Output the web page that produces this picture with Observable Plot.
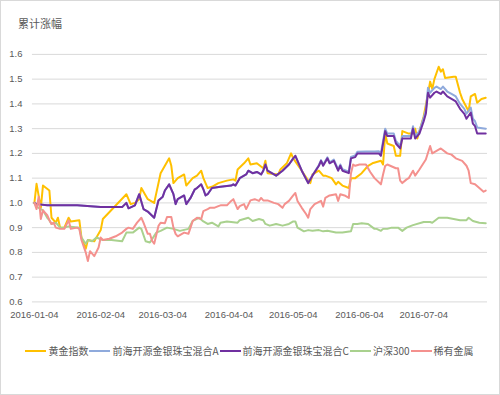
<!DOCTYPE html>
<html>
<head>
<meta charset="utf-8">
<script src="https://cdn.jsdelivr.net/npm/d3@7"></script>
<script src="https://cdn.jsdelivr.net/npm/@observablehq/plot@0.6"></script>
<style>
  html, body { margin: 0; padding: 0; background: #fff; }
  #wrap { position: relative; width: 500px; height: 395px; box-sizing: border-box; border: 1px solid #d9d9d9; overflow: hidden; }
  #title { position: absolute; left: 17px; top: 14px; font: 11px "Noto Sans CJK SC", sans-serif; color: #595959; }
  #chart { position: absolute; left: -1px; top: -1px; }
  #legend { position: absolute; left: 0; top: 342px; width: 498px; display: flex; justify-content: center; align-items: center; font: 10px "Noto Sans CJK SC", sans-serif; color: #595959; }
  .item { display: flex; align-items: center; margin-right: 1px; }
  .sw { width: 21px; height: 2px; margin-right: 2px; }
</style>
</head>
<body>
<div id="wrap">
  <div id="title">累计涨幅</div>
  <div id="chart"></div>
  <div id="legend"></div>
</div>
<script>
const seriesNames = ["黄金指数", "前海开源金银珠宝混合A", "前海开源金银珠宝混合C", "沪深300", "稀有金属"];
const seriesColors = ["#FFC000", "#8FAADC", "#7030A0", "#A9D18E", "#F4918E"];

const yTicks = [0.6, 0.7, 0.8, 0.9, 1.0, 1.1, 1.2, 1.3, 1.4, 1.5, 1.6];
const xTicks = ["2016-01-04", "2016-02-04", "2016-03-04", "2016-04-04", "2016-05-04", "2016-06-04", "2016-07-04"];

const goldDates = ["2016-01-04","2016-01-05","2016-01-07","2016-01-08","2016-01-11","2016-01-12","2016-01-14","2016-01-15","2016-01-16","2016-01-18",
"2016-01-20","2016-01-21","2016-01-25","2016-01-26","2016-01-28","2016-01-29","2016-02-01","2016-02-02","2016-02-04","2016-02-05",
"2016-02-16","2016-02-18","2016-02-20","2016-02-22","2016-02-23","2016-02-26","2016-02-29","2016-03-03","2016-03-04","2016-03-07",
"2016-03-08","2016-03-09","2016-03-11","2016-03-14","2016-03-15","2016-03-18","2016-03-20","2016-03-22","2016-03-23","2016-03-25",
"2016-03-27","2016-03-30","2016-04-03","2016-04-06","2016-04-07","2016-04-08","2016-04-11","2016-04-13","2016-04-14","2016-04-17",
"2016-04-20","2016-04-21","2016-04-22","2016-04-27","2016-04-28","2016-05-01","2016-05-03","2016-05-04","2016-05-08","2016-05-11",
"2016-05-12","2016-05-13","2016-05-16","2016-05-18","2016-05-19","2016-05-22","2016-05-24","2016-05-25","2016-05-27","2016-05-30",
"2016-05-31","2016-06-02","2016-06-05","2016-06-08","2016-06-10","2016-06-14","2016-06-15","2016-06-16","2016-06-17","2016-06-20",
"2016-06-21","2016-06-23","2016-06-24","2016-06-27","2016-06-29","2016-06-30","2016-07-01","2016-07-03","2016-07-04","2016-07-06",
"2016-07-07","2016-07-08","2016-07-09","2016-07-11","2016-07-12","2016-07-13","2016-07-14","2016-07-18","2016-07-19","2016-07-21",
"2016-07-22","2016-07-25","2016-07-26","2016-07-28","2016-07-29","2016-07-31","2016-08-02"];
const goldValues = [1.00,1.077,0.98,1.07,1.05,0.94,0.92,0.94,0.90,0.90,
0.94,0.925,0.93,0.86,0.815,0.85,0.845,0.86,0.89,0.935,
1.035,0.995,1.0,1.015,1.06,1.015,1.0,1.12,1.135,1.18,
1.15,1.08,1.10,1.115,1.07,1.10,1.11,1.13,1.10,1.06,
1.065,1.08,1.09,1.095,1.09,1.135,1.16,1.18,1.155,1.16,
1.14,1.17,1.12,1.115,1.135,1.16,1.20,1.18,1.13,1.09,
1.08,1.115,1.13,1.11,1.11,1.10,1.075,1.085,1.07,1.06,
1.10,1.10,1.12,1.15,1.16,1.17,1.155,1.28,1.24,1.23,
1.19,1.19,1.29,1.28,1.28,1.30,1.26,1.32,1.35,1.44,
1.49,1.46,1.50,1.55,1.53,1.54,1.505,1.51,1.51,1.445,
1.42,1.37,1.43,1.44,1.405,1.42,1.425];

const fundDates = ["2016-01-04","2016-01-05","2016-01-10","2016-01-24","2016-02-04","2016-02-14","2016-02-16","2016-02-17","2016-02-20","2016-02-22",
"2016-02-24","2016-02-26","2016-02-29","2016-03-02","2016-03-04","2016-03-05","2016-03-07","2016-03-09","2016-03-10","2016-03-11",
"2016-03-14","2016-03-15","2016-03-17","2016-03-19","2016-03-20","2016-03-22","2016-03-23","2016-03-24","2016-03-25","2016-03-27",
"2016-03-31","2016-04-05","2016-04-06","2016-04-07","2016-04-09","2016-04-12","2016-04-13","2016-04-15","2016-04-17","2016-04-19",
"2016-04-20","2016-04-21","2016-04-22","2016-04-26","2016-04-29","2016-05-02","2016-05-04","2016-05-05","2016-05-08","2016-05-11",
"2016-05-13","2016-05-16","2016-05-17","2016-05-18","2016-05-20","2016-05-21","2016-05-23","2016-05-25","2016-05-26","2016-05-27",
"2016-05-30","2016-05-31","2016-06-02","2016-06-03","2016-06-07","2016-06-11","2016-06-13","2016-06-14","2016-06-16","2016-06-17",
"2016-06-20","2016-06-21","2016-06-23","2016-06-24","2016-06-28","2016-06-29","2016-06-30","2016-07-02","2016-07-04","2016-07-05",
"2016-07-06","2016-07-07","2016-07-09","2016-07-10","2016-07-12","2016-07-13","2016-07-15","2016-07-17","2016-07-19","2016-07-21",
"2016-07-23","2016-07-24","2016-07-26","2016-07-27","2016-07-28","2016-07-29","2016-08-02"];
const fundAValues = [1.0,0.995,0.99,0.99,0.983,0.983,1.0,0.978,0.99,1.035,
0.975,0.965,0.94,1.01,1.025,1.05,1.075,1.035,0.995,1.015,
1.03,0.995,1.02,1.055,1.06,1.075,1.055,1.03,1.035,1.06,
1.065,1.07,1.075,1.07,1.10,1.115,1.13,1.12,1.125,1.115,
1.13,1.155,1.13,1.11,1.13,1.155,1.18,1.19,1.13,1.08,
1.112,1.153,1.173,1.154,1.184,1.164,1.175,1.135,1.155,1.136,
1.126,1.186,1.192,1.207,1.208,1.208,1.209,1.20,1.30,1.28,
1.28,1.25,1.23,1.27,1.27,1.31,1.27,1.29,1.345,1.375,
1.465,1.445,1.465,1.47,1.46,1.47,1.45,1.44,1.43,1.40,
1.38,1.36,1.385,1.34,1.33,1.305,1.30];
const fundCValues = [1.0,0.995,0.99,0.99,0.983,0.983,1.0,0.978,0.99,1.035,
0.975,0.965,0.94,1.01,1.025,1.05,1.075,1.035,0.995,1.015,
1.03,0.995,1.02,1.055,1.06,1.075,1.055,1.03,1.035,1.06,
1.065,1.07,1.075,1.07,1.10,1.115,1.13,1.12,1.125,1.115,
1.13,1.155,1.13,1.11,1.13,1.155,1.18,1.19,1.13,1.08,
1.11,1.15,1.17,1.15,1.18,1.16,1.17,1.13,1.15,1.13,
1.12,1.18,1.185,1.20,1.20,1.20,1.20,1.19,1.29,1.27,
1.27,1.24,1.22,1.26,1.26,1.30,1.26,1.28,1.33,1.36,
1.445,1.425,1.445,1.45,1.44,1.45,1.43,1.42,1.41,1.38,
1.36,1.34,1.365,1.32,1.31,1.28,1.28];

const hs300Dates = ["2016-01-04","2016-01-05","2016-01-08","2016-01-10","2016-01-11","2016-01-12","2016-01-14","2016-01-16","2016-01-18","2016-01-20",
"2016-01-25","2016-01-26","2016-01-28","2016-01-29","2016-01-31","2016-02-02","2016-02-05","2016-02-09","2016-02-14","2016-02-16",
"2016-02-19","2016-02-22","2016-02-23","2016-02-25","2016-02-27","2016-03-01","2016-03-03","2016-03-06","2016-03-09","2016-03-12",
"2016-03-16","2016-03-18","2016-03-21","2016-03-23","2016-03-25","2016-03-27","2016-03-30","2016-03-31","2016-04-03","2016-04-08",
"2016-04-09","2016-04-13","2016-04-15","2016-04-18","2016-04-20","2016-04-21","2016-04-23","2016-04-26","2016-04-29","2016-05-02",
"2016-05-04","2016-05-05","2016-05-06","2016-05-09","2016-05-11","2016-05-13","2016-05-16","2016-05-18","2016-05-20","2016-05-24",
"2016-05-27","2016-05-31","2016-06-01","2016-06-03","2016-06-05","2016-06-08","2016-06-11","2016-06-12","2016-06-14","2016-06-15",
"2016-06-17","2016-06-19","2016-06-22","2016-06-24","2016-06-26","2016-06-29","2016-07-04","2016-07-07","2016-07-08","2016-07-11",
"2016-07-15","2016-07-18","2016-07-21","2016-07-24","2016-07-25","2016-07-27","2016-07-30","2016-08-02"];
const hs300Values = [1.0,0.985,0.97,0.94,0.93,0.915,0.92,0.90,0.90,0.905,
0.90,0.86,0.835,0.85,0.845,0.86,0.85,0.85,0.845,0.88,
0.88,0.90,0.895,0.845,0.84,0.88,0.887,0.90,0.895,0.887,
0.895,0.927,0.94,0.925,0.915,0.92,0.905,0.92,0.925,0.92,
0.93,0.94,0.927,0.935,0.93,0.915,0.908,0.915,0.908,0.915,
0.925,0.925,0.90,0.885,0.89,0.887,0.89,0.885,0.887,0.88,
0.88,0.885,0.915,0.915,0.918,0.915,0.895,0.895,0.887,0.895,
0.895,0.90,0.90,0.887,0.90,0.91,0.923,0.923,0.92,0.94,
0.94,0.935,0.93,0.93,0.94,0.927,0.92,0.918];

const rareDates = ["2016-01-04","2016-01-05","2016-01-06","2016-01-07","2016-01-08","2016-01-10","2016-01-11","2016-01-12","2016-01-13","2016-01-14",
"2016-01-16","2016-01-18","2016-01-20","2016-01-21","2016-01-24","2016-01-25","2016-01-26","2016-01-28","2016-01-29","2016-01-30",
"2016-02-01","2016-02-03","2016-02-04","2016-02-05","2016-02-08","2016-02-11","2016-02-14","2016-02-16","2016-02-17","2016-02-19",
"2016-02-21","2016-02-23","2016-02-24","2016-02-26","2016-02-27","2016-02-28","2016-02-29","2016-03-02","2016-03-03","2016-03-05",
"2016-03-06","2016-03-08","2016-03-09","2016-03-10","2016-03-11","2016-03-14","2016-03-16","2016-03-17","2016-03-18","2016-03-20",
"2016-03-22","2016-03-23","2016-03-25","2016-03-26","2016-03-28","2016-03-30","2016-03-31","2016-04-03","2016-04-05","2016-04-06",
"2016-04-08","2016-04-09","2016-04-11","2016-04-12","2016-04-14","2016-04-16","2016-04-18","2016-04-19","2016-04-20","2016-04-22",
"2016-04-25","2016-04-27","2016-04-29","2016-04-30","2016-05-02","2016-05-04","2016-05-05","2016-05-06","2016-05-08","2016-05-10",
"2016-05-11","2016-05-12","2016-05-14","2016-05-17","2016-05-18","2016-05-19","2016-05-21","2016-05-24","2016-05-25","2016-05-26",
"2016-05-28","2016-05-30","2016-05-31","2016-06-01","2016-06-02","2016-06-04","2016-06-07","2016-06-09","2016-06-11","2016-06-14",
"2016-06-15","2016-06-16","2016-06-17","2016-06-21","2016-06-22","2016-06-23","2016-06-24","2016-06-26","2016-06-27","2016-06-29",
"2016-06-30","2016-07-02","2016-07-05","2016-07-07","2016-07-08","2016-07-10","2016-07-12","2016-07-15","2016-07-17","2016-07-19",
"2016-07-22","2016-07-24","2016-07-25","2016-07-26","2016-07-28","2016-07-30","2016-08-01","2016-08-02"];
const rareValues = [1.0,0.975,1.025,0.935,0.97,0.95,0.93,0.915,0.92,0.90,
0.895,0.895,0.93,0.895,0.90,0.895,0.85,0.80,0.765,0.805,
0.785,0.82,0.86,0.85,0.855,0.865,0.88,0.895,0.90,0.895,
0.92,0.94,0.92,0.875,0.875,0.847,0.835,0.907,0.92,0.918,
0.943,0.943,0.90,0.875,0.865,0.88,0.875,0.90,0.927,0.94,
0.935,0.967,0.975,0.98,0.98,0.987,0.99,0.99,1.008,1.015,
0.975,0.987,0.995,0.975,1.01,1.015,1.008,1.02,1.01,1.01,
1.0,0.995,0.98,0.995,1.008,1.03,1.04,1.008,0.98,0.955,
0.94,0.975,0.995,1.008,0.985,1.02,1.03,1.035,1.008,1.035,
1.03,1.02,1.12,1.155,1.15,1.155,1.155,1.125,1.10,1.075,
1.115,1.15,1.155,1.14,1.14,1.09,1.08,1.095,1.10,1.13,
1.11,1.135,1.175,1.23,1.20,1.21,1.22,1.20,1.195,1.18,
1.17,1.15,1.13,1.08,1.075,1.06,1.045,1.05];

const seriesData = [
  [goldDates, goldValues],
  [fundDates, fundAValues],
  [fundDates, fundCValues],
  [hs300Dates, hs300Values],
  [rareDates, rareValues]
];

const rows = [];
seriesData.forEach(([dates, values], k) => {
  dates.forEach((d, i) => rows.push({date: new Date(d + "T00:00:00Z"), value: values[i], name: seriesNames[k]}));
});

const chart = Plot.plot({
  width: 500,
  height: 330,
  marginLeft: 32,
  marginRight: 12,
  marginTop: 54,
  marginBottom: 28,
  style: {fontFamily: "'Liberation Sans', Arial, sans-serif", fontSize: "9.5px", color: "#595959", background: "transparent"},
  x: {type: "utc", domain: [new Date("2016-01-03T02:00:00Z"), new Date("2016-08-02T20:00:00Z")], label: null},
  y: {domain: [0.6, 1.6], label: null},
  color: {domain: seriesNames, range: seriesColors},
  marks: [
    Plot.gridY(yTicks, {stroke: "#d9d9d9", strokeOpacity: 1, strokeWidth: 1}),
    Plot.axisY(yTicks, {tickSize: 0, tickPadding: 10, tickFormat: d => d.toFixed(1), fill: "#595959"}),
    Plot.axisX(xTicks.map(d => new Date(d + "T00:00:00Z")), {tickSize: 0, tickPadding: 9, tickFormat: d3.utcFormat("%Y-%m-%d"), fill: "#595959"}),
    Plot.line(rows, {x: "date", y: "value", z: "name", stroke: "name", strokeWidth: 2, strokeLinejoin: "round", curve: "linear"})
  ]
});
document.getElementById("chart").appendChild(chart);

const legend = document.getElementById("legend");
seriesNames.forEach((n, i) => {
  const item = document.createElement("div");
  item.className = "item";
  const sw = document.createElement("div");
  sw.className = "sw";
  sw.style.background = seriesColors[i];
  const t = document.createElement("span");
  t.textContent = n;
  item.appendChild(sw);
  item.appendChild(t);
  legend.appendChild(item);
});
</script>
</body>
</html>
